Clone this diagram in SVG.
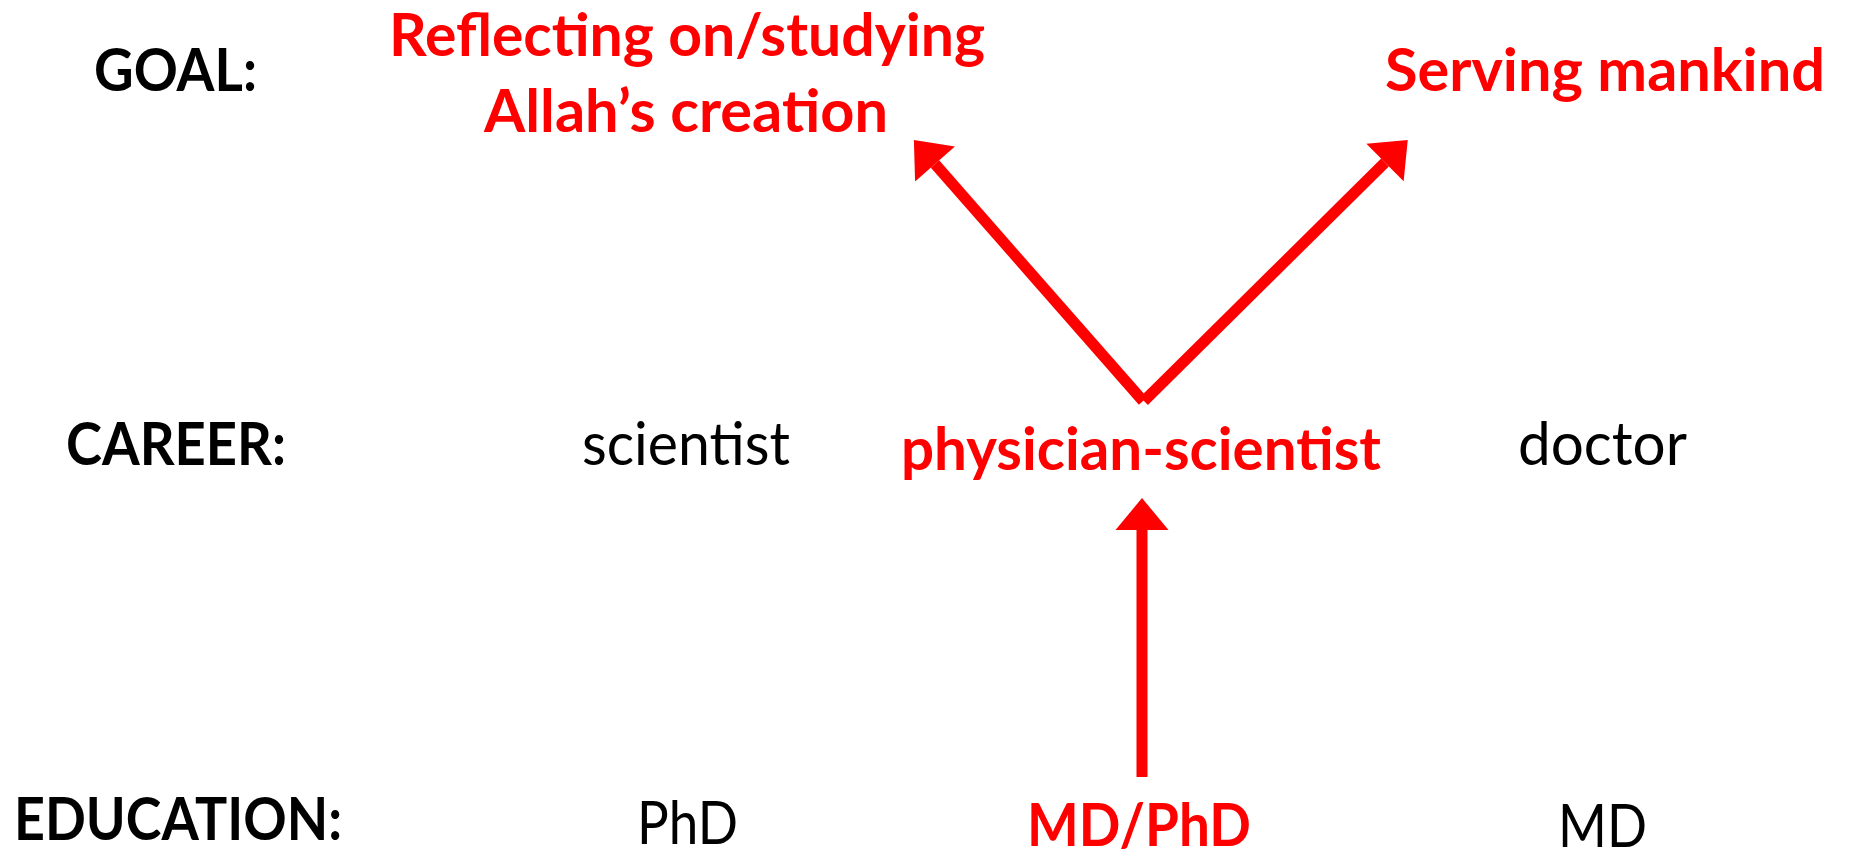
<svg xmlns="http://www.w3.org/2000/svg" width="1852" height="857" viewBox="0 0 1852 857">
  <style>
    text { font-family: Lato, "Liberation Sans", sans-serif; font-size: 60px; }
    .b { font-weight: bold; }
    .k { fill: #000000; }
    .r { fill: #FF0000; font-weight: bold; }
    .arrow { stroke: #FF0000; stroke-width: 11; fill: none; stroke-linecap: butt; }
  </style>
  <defs>
    <marker id="head" markerUnits="userSpaceOnUse" viewBox="0 -27 33 54" refX="0" refY="0" markerWidth="33" markerHeight="54" orient="auto" overflow="visible">
      <path d="M0,-26.5 L32,0 L0,26.5 Z" fill="#FF0000"/>
    </marker>
  </defs>
  <rect width="1852" height="857" fill="#FFFFFF"/>

  <g id="row-labels">
    <text id="goal-label" class="b k" x="94" y="91" textLength="163" lengthAdjust="spacingAndGlyphs">GOAL:</text>
    <text id="career-label" class="b k" x="66" y="465" textLength="220" lengthAdjust="spacingAndGlyphs">CAREER:</text>
    <text id="education-label" class="b k" x="14" y="840" textLength="328" lengthAdjust="spacingAndGlyphs">EDUCATION:</text>
  </g>

  <g id="goal-reflecting">
    <text class="r" x="389" y="56" textLength="596" lengthAdjust="spacingAndGlyphs">Reflecting on/studying</text>
    <text class="r" x="484" y="132" textLength="404" lengthAdjust="spacingAndGlyphs">Allah’s creation</text>
  </g>
  <g id="goal-serving">
    <text class="r" x="1385" y="91" textLength="440" lengthAdjust="spacingAndGlyphs">Serving mankind</text>
  </g>

  <g id="career-scientist">
    <text class="k" x="582" y="465" textLength="208" lengthAdjust="spacingAndGlyphs">scientist</text>
  </g>
  <g id="career-physician-scientist">
    <text class="r" x="901" y="470" textLength="480" lengthAdjust="spacingAndGlyphs">physician-scientist</text>
  </g>
  <g id="career-doctor">
    <text class="k" x="1518" y="465" textLength="169" lengthAdjust="spacingAndGlyphs">doctor</text>
  </g>

  <g id="edu-phd">
    <text class="k" x="637" y="844" textLength="101" lengthAdjust="spacingAndGlyphs">PhD</text>
  </g>
  <g id="edu-mdphd">
    <text class="r" x="1027" y="846" textLength="224" lengthAdjust="spacingAndGlyphs">MD/PhD</text>
  </g>
  <g id="edu-md">
    <text class="k" x="1558" y="847" textLength="89" lengthAdjust="spacingAndGlyphs">MD</text>
  </g>

  <g id="connectors">
    <line class="arrow" x1="1142" y1="777" x2="1142" y2="530" marker-end="url(#head)"/>
    <line class="arrow" x1="1143" y1="401" x2="935" y2="164" marker-end="url(#head)"/>
    <line class="arrow" x1="1144" y1="401" x2="1385" y2="162.5" marker-end="url(#head)"/>
  </g>
</svg>
